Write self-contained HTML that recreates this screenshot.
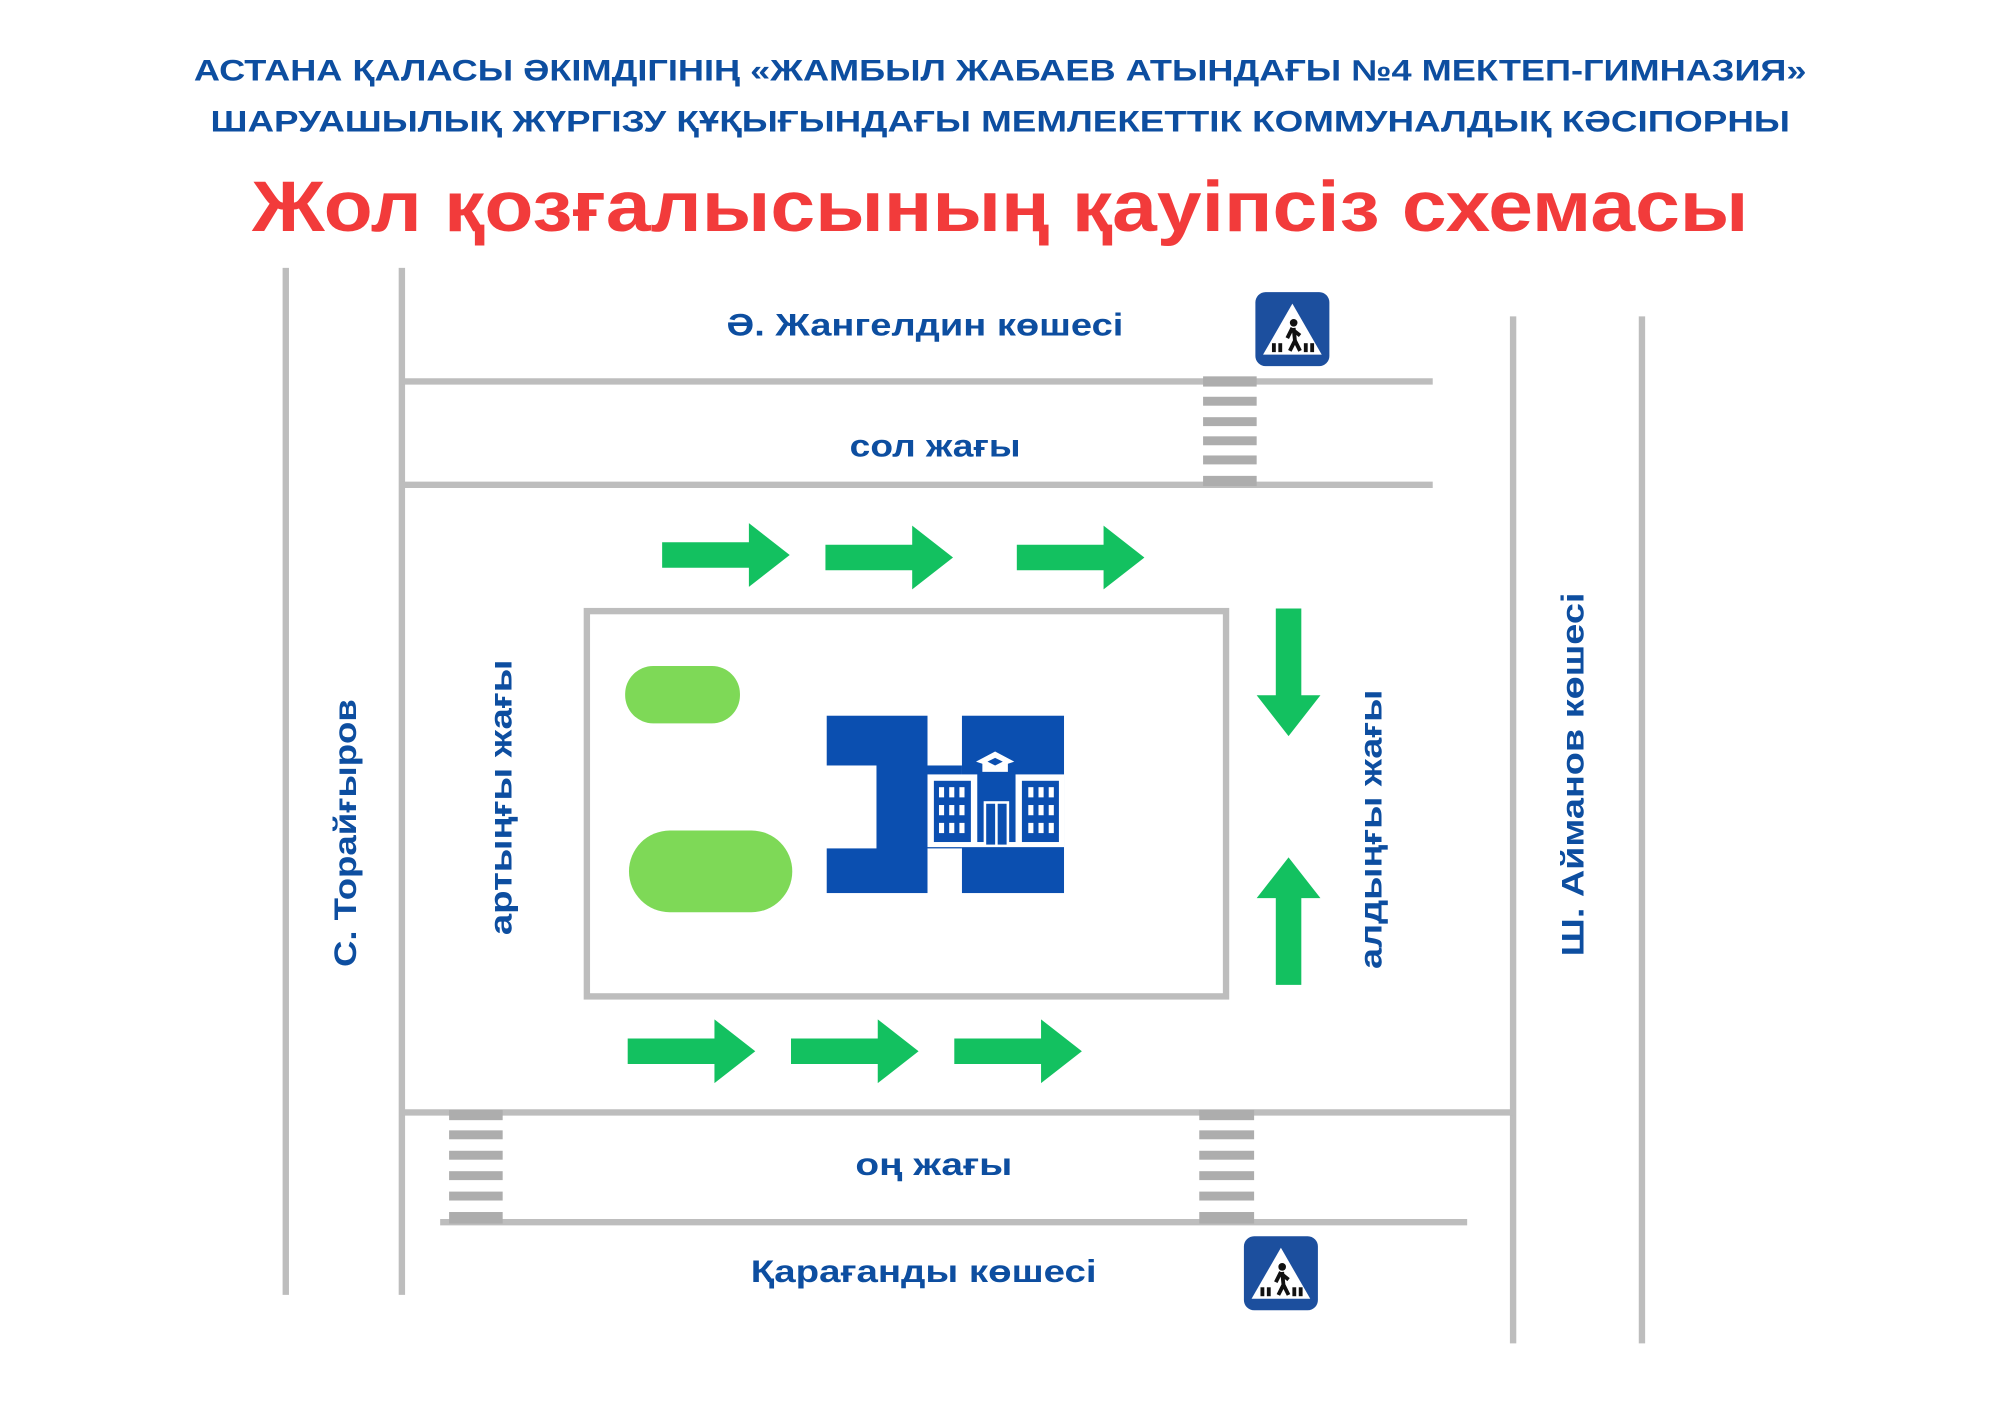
<!DOCTYPE html>
<html><head><meta charset="utf-8"><style>
html,body{margin:0;padding:0;background:#fff;}
svg{display:block;}
text{font-family:"Liberation Sans","DejaVu Sans",sans-serif;font-weight:bold;}
</style></head><body>
<svg width="2000" height="1414" viewBox="0 0 2000 1414" xmlns="http://www.w3.org/2000/svg">
<rect width="2000" height="1414" fill="#fff"/>
<g transform="scale(1.2758)">
<text x="784" y="63" font-size="23" fill="#0d4ea0" text-anchor="middle" textLength="1264" lengthAdjust="spacingAndGlyphs">АСТАНА ҚАЛАСЫ ӘКІМДІГІНІҢ  «ЖАМБЫЛ ЖАБАЕВ АТЫНДАҒЫ №4 МЕКТЕП-ГИМНАЗИЯ»</text>
<text x="784" y="103" font-size="23" fill="#0d4ea0" text-anchor="middle" textLength="1238" lengthAdjust="spacingAndGlyphs">ШАРУАШЫЛЫҚ ЖҮРГІЗУ ҚҰҚЫҒЫНДАҒЫ МЕМЛЕКЕТТІК  КОММУНАЛДЫҚ КӘСІПОРНЫ</text>
<text x="784" y="181" font-size="56" fill="#f23b3b" text-anchor="middle" textLength="1173" lengthAdjust="spacingAndGlyphs">Жол қозғалысының қауіпсіз схемасы</text>

<g stroke="#bdbdbd" stroke-width="5" fill="none">
<line x1="224" y1="210" x2="224" y2="1015"/>
<line x1="315" y1="210" x2="315" y2="1015"/>
<line x1="1186" y1="248" x2="1186" y2="1053"/>
<line x1="1287" y1="248" x2="1287" y2="1053"/>
<line x1="315" y1="299" x2="1123" y2="299"/>
<line x1="315" y1="380" x2="1123" y2="380"/>
<line x1="315" y1="872" x2="1186" y2="872"/>
<line x1="345" y1="958" x2="1150" y2="958"/>
<rect x="460" y="479" width="501" height="302"/>
</g>
<g fill="#adadad">
<rect x="943" y="295" width="42" height="8"/><rect x="943" y="311" width="42" height="7"/><rect x="943" y="327" width="42" height="7"/><rect x="943" y="342" width="42" height="7"/><rect x="943" y="357" width="42" height="7"/><rect x="943" y="373" width="42" height="8"/>
<rect x="352" y="870" width="42" height="8"/><rect x="352" y="886" width="42" height="7"/><rect x="352" y="902" width="42" height="7"/><rect x="352" y="918" width="42" height="7"/><rect x="352" y="934" width="42" height="7"/><rect x="352" y="950" width="42" height="9"/>
<rect x="940" y="870" width="43" height="8"/><rect x="940" y="886" width="43" height="7"/><rect x="940" y="902" width="43" height="7"/><rect x="940" y="918" width="43" height="7"/><rect x="940" y="934" width="43" height="7"/><rect x="940" y="950" width="43" height="9"/>
</g>

<g id="sign1" transform="translate(984,229)">
<rect width="58" height="58" rx="8" fill="#1c4f9e"/>
<polygon points="29,9 52,49 6,49" fill="#fff"/>
<circle cx="30" cy="24" r="3" fill="#111"/>
<path d="M29,28 L25,36 M30,28 L31,38 L35,46 M31,38 L27,46 M30,30 L35,34" stroke="#111" stroke-width="3" fill="none"/>
<g fill="#111"><rect x="13" y="40" width="3" height="7"/><rect x="18" y="40" width="3" height="7"/><rect x="38" y="40" width="3" height="7"/><rect x="43" y="40" width="3" height="7"/></g>
</g>
<use href="#sign1" transform="translate(-9,740)"/>

<rect x="490" y="522" width="90" height="45" rx="22" fill="#7ed957"/>
<rect x="493" y="651" width="128" height="64" rx="32" fill="#7ed957"/>

<g fill="#0b4fb0">
<rect x="648" y="561" width="79" height="139"/>
<rect x="754" y="561" width="80" height="139"/>
<rect x="727" y="600" width="27" height="65"/>
</g>
<rect x="646" y="600" width="41" height="65" fill="#fff"/>
<rect x="727" y="607" width="107" height="57" fill="#fff"/>
<g fill="#0b4fb0">
<rect x="732" y="612" width="29" height="48"/>
<rect x="801" y="612" width="29" height="48"/>
<rect x="766" y="605" width="30" height="55"/>
</g>
<g fill="#fff">
<rect x="771" y="628" width="20" height="34"/>
<polygon points="765,597 780,589 795,597 780,602"/>
<rect x="770" y="597" width="20" height="8"/>
</g>
<g fill="#0b4fb0"><rect x="773" y="630" width="7" height="32"/><rect x="782" y="630" width="7" height="32"/>
<polygon points="774,597 780,594 786,597 780,600"/></g>
<g fill="#fff">
<rect x="736" y="617" width="4" height="8"/><rect x="744" y="617" width="4" height="8"/><rect x="752" y="617" width="4" height="8"/>
<rect x="736" y="631" width="4" height="8"/><rect x="744" y="631" width="4" height="8"/><rect x="752" y="631" width="4" height="8"/>
<rect x="736" y="645" width="4" height="8"/><rect x="744" y="645" width="4" height="8"/><rect x="752" y="645" width="4" height="8"/>
<rect x="806" y="617" width="4" height="8"/><rect x="814" y="617" width="4" height="8"/><rect x="822" y="617" width="4" height="8"/>
<rect x="806" y="631" width="4" height="8"/><rect x="814" y="631" width="4" height="8"/><rect x="822" y="631" width="4" height="8"/>
<rect x="806" y="645" width="4" height="8"/><rect x="814" y="645" width="4" height="8"/><rect x="822" y="645" width="4" height="8"/>
</g>

<g fill="#13c160">
<polygon id="ar" points="0,-10 68,-10 68,-25 100,0 68,25 68,10 0,10" transform="translate(519,435)"/>
<use href="#ar" transform="translate(128,2)"/>
<use href="#ar" transform="translate(278,2)"/>
<use href="#ar" transform="translate(-27,389)"/>
<use href="#ar" transform="translate(101,389)"/>
<use href="#ar" transform="translate(229,389)"/>
<polygon points="0,-10 68,-10 68,-25 100,0 68,25 68,10 0,10" transform="translate(1010,477) rotate(90)"/>
<polygon points="0,-10 68,-10 68,-25 100,0 68,25 68,10 0,10" transform="translate(1010,772) rotate(-90)"/>
</g>

<g font-size="25" fill="#0d4ea0" text-anchor="middle">
<text x="725" y="263" textLength="311" lengthAdjust="spacingAndGlyphs">Ә. Жангелдин көшесі</text>
<text x="733" y="358" textLength="134" lengthAdjust="spacingAndGlyphs">сол жағы</text>
<text x="732" y="921" textLength="123" lengthAdjust="spacingAndGlyphs">оң жағы</text>
<text x="724" y="1005" textLength="271" lengthAdjust="spacingAndGlyphs">Қарағанды көшесі</text>
<text transform="translate(279,653) rotate(-90)" textLength="210" lengthAdjust="spacingAndGlyphs">С. Торайғыров</text>
<text transform="translate(401,625) rotate(-90)" textLength="216" lengthAdjust="spacingAndGlyphs">артыңғы жағы</text>
<text transform="translate(1083,650) rotate(-90)" textLength="219" lengthAdjust="spacingAndGlyphs">алдыңғы жағы</text>
<text transform="translate(1241,607) rotate(-90)" textLength="285" lengthAdjust="spacingAndGlyphs">Ш. Айманов көшесі</text>
</g>
</g>
</svg>
</body></html>
